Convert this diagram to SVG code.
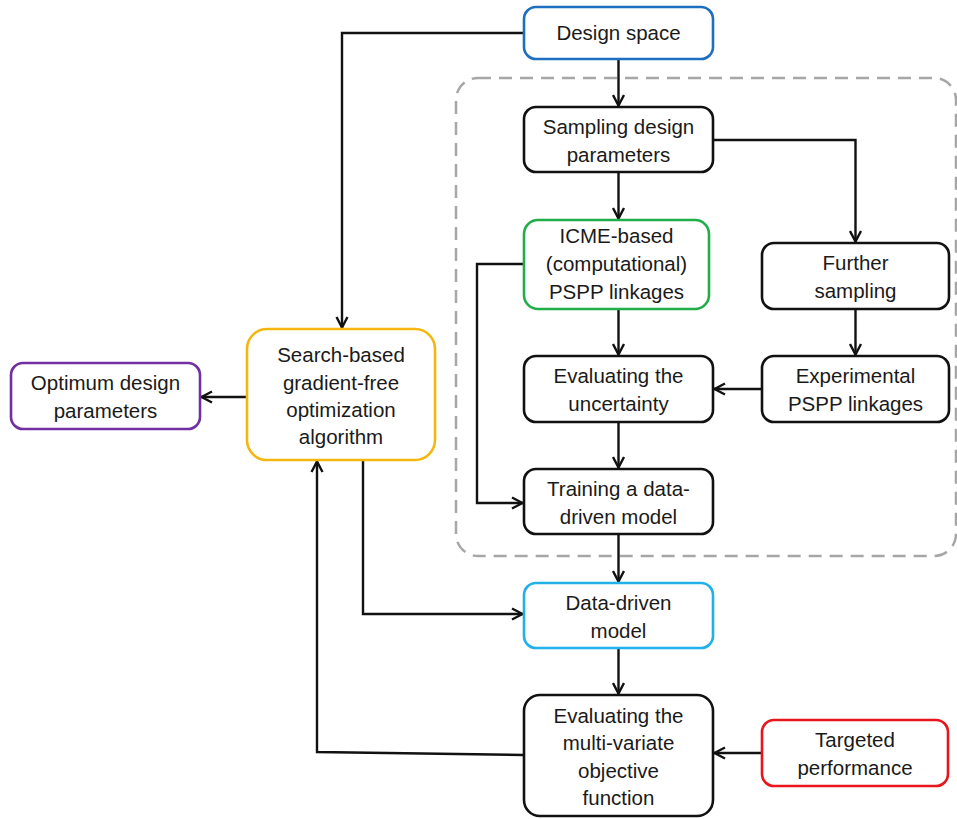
<svg xmlns="http://www.w3.org/2000/svg" width="957" height="819" viewBox="0 0 957 819">
<style>
.box{fill:#fff;stroke-width:2.6}
.k{stroke:#111}
.t{font-family:"Liberation Sans",Arial,sans-serif;font-size:20.5px;fill:#1a1a1a;text-anchor:middle}
.c{fill:none;stroke:#111;stroke-width:2.4}
</style>
<defs>
<marker id="ah" viewBox="0 0 14 14" refX="13" refY="7" markerWidth="14" markerHeight="14" markerUnits="userSpaceOnUse" orient="auto">
<path d="M2,1.5 L12.5,7 L2,12.5" fill="none" stroke="#111" stroke-width="2.4"/>
</marker>
</defs>
<rect x="456" y="78" width="500" height="478" rx="22" fill="none" stroke="#a6a6a6" stroke-width="2.5" stroke-dasharray="13 8"/>
<g id="connectors">
<path class="c" d="M524,33 H342 V328" marker-end="url(#ah)"/>
<path class="c" d="M618.5,59 V106" marker-end="url(#ah)"/>
<path class="c" d="M618.5,172 V219" marker-end="url(#ah)"/>
<path class="c" d="M713,140 H855.5 V242" marker-end="url(#ah)"/>
<path class="c" d="M524,264 H477 V503 H523" marker-end="url(#ah)"/>
<path class="c" d="M618.5,309 V355" marker-end="url(#ah)"/>
<path class="c" d="M855.5,309 V355" marker-end="url(#ah)"/>
<path class="c" d="M762,389 H714" marker-end="url(#ah)"/>
<path class="c" d="M618.5,422 V468" marker-end="url(#ah)"/>
<path class="c" d="M618.5,534 V582" marker-end="url(#ah)"/>
<path class="c" d="M247,397 H201" marker-end="url(#ah)"/>
<path class="c" d="M363,460 V614 H523" marker-end="url(#ah)"/>
<path class="c" d="M618.5,648 V694" marker-end="url(#ah)"/>
<path class="c" d="M762,753 H714" marker-end="url(#ah)"/>
<path class="c" d="M524,755 L317,752 V461" marker-end="url(#ah)"/>
</g>
<g id="design-space"><rect class="box" x="524" y="7" width="189" height="52" rx="12" stroke="#1f6fc0"/><text class="t" x="618.5" y="40">Design space</text></g>
<g id="sampling"><rect class="box k" x="524" y="107" width="189" height="65" rx="12"/><text class="t" x="618.5" y="134">Sampling design</text><text class="t" x="618.5" y="162">parameters</text></g>
<g id="icme"><rect class="box" x="524" y="220" width="185" height="89" rx="14" stroke="#1fae4a"/><text class="t" x="616.5" y="243">ICME-based</text><text class="t" x="616.5" y="271">(computational)</text><text class="t" x="616.5" y="299">PSPP linkages</text></g>
<g id="further"><rect class="box k" x="762" y="243" width="187" height="66" rx="12"/><text class="t" x="855.5" y="270">Further</text><text class="t" x="855.5" y="298">sampling</text></g>
<g id="eval-unc"><rect class="box k" x="524" y="356" width="189" height="66" rx="12"/><text class="t" x="618.5" y="383">Evaluating the</text><text class="t" x="618.5" y="411">uncertainty</text></g>
<g id="experimental"><rect class="box k" x="762" y="356" width="187" height="66" rx="12"/><text class="t" x="855.5" y="383">Experimental</text><text class="t" x="855.5" y="411">PSPP linkages</text></g>
<g id="training"><rect class="box k" x="524" y="469" width="189" height="65" rx="12"/><text class="t" x="618.5" y="496">Training a data-</text><text class="t" x="618.5" y="524">driven model</text></g>
<g id="data-driven"><rect class="box" x="524" y="583" width="189" height="65" rx="12" stroke="#22b0ea"/><text class="t" x="618.5" y="610">Data-driven</text><text class="t" x="618.5" y="638">model</text></g>
<g id="eval-obj"><rect class="box k" x="524" y="695" width="189" height="121" rx="16"/><text class="t" x="618.5" y="723">Evaluating the</text><text class="t" x="618.5" y="750">multi-variate</text><text class="t" x="618.5" y="778">objective</text><text class="t" x="618.5" y="805">function</text></g>
<g id="targeted"><rect class="box" x="762" y="720" width="186" height="66" rx="12" stroke="#e8161b"/><text class="t" x="855" y="747">Targeted</text><text class="t" x="855" y="775">performance</text></g>
<g id="search"><rect class="box" x="247" y="329" width="188" height="131" rx="20" stroke="#f5b70f"/><text class="t" x="341" y="362">Search-based</text><text class="t" x="341" y="390">gradient-free</text><text class="t" x="341" y="417">optimization</text><text class="t" x="341" y="444">algorithm</text></g>
<g id="optimum"><rect class="box" x="11" y="363" width="189" height="66" rx="12" stroke="#7030a0"/><text class="t" x="105.5" y="390">Optimum design</text><text class="t" x="105.5" y="418">parameters</text></g>
</svg>
